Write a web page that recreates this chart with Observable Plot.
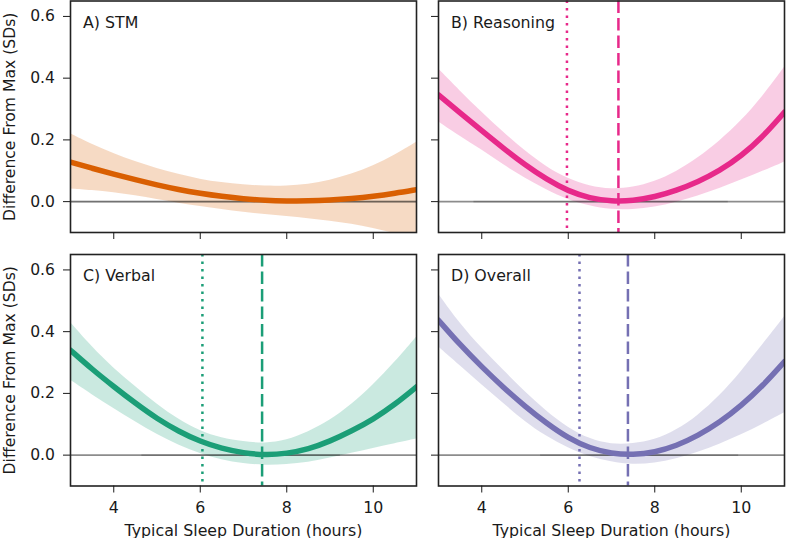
<!DOCTYPE html>
<html><head><meta charset="utf-8">
<script src="https://cdn.jsdelivr.net/npm/d3@7"></script>
<script src="https://cdn.jsdelivr.net/npm/@observablehq/plot@0.6"></script>
<style>
html,body{margin:0;padding:0;background:#fff;}
#chart{position:relative;width:786px;height:538px;font-family:"DejaVu Sans",sans-serif;}
#chart svg{position:absolute;}
</style></head><body><div id="chart"></div>
<script>
// ---- data ----
const hours = [3,3.5,4,4.5,5,5.5,6,6.5,7,7.5,8,8.5,9,9.5,10,10.5,11];

const stmMean  = [0.128,0.108,0.089,0.071,0.054,0.039,0.027,0.017,0.009,0.004,0.002,0.002,0.005,0.010,0.017,0.027,0.039];
const stmUpper = [0.220,0.185,0.155,0.129,0.107,0.088,0.072,0.061,0.054,0.050,0.050,0.055,0.068,0.088,0.115,0.150,0.192];
const stmLower = [0.041,0.036,0.029,0.019,0.007,-0.005,-0.016,-0.026,-0.035,-0.042,-0.048,-0.055,-0.063,-0.073,-0.086,-0.103,-0.125];

const reasoningMean  = [0.346,0.287,0.230,0.173,0.119,0.072,0.034,0.011,0.001,0.003,0.015,0.036,0.064,0.100,0.148,0.210,0.290];
const reasoningUpper = [0.430,0.358,0.290,0.225,0.164,0.112,0.073,0.049,0.039,0.045,0.064,0.096,0.140,0.195,0.260,0.340,0.435];
const reasoningLower = [0.259,0.211,0.168,0.119,0.076,0.038,0.005,-0.015,-0.027,-0.027,-0.019,-0.003,0.018,0.042,0.070,0.098,0.128];

const verbalMean  = [0.340,0.278,0.222,0.168,0.118,0.077,0.044,0.021,0.007,0.000,0.005,0.019,0.045,0.078,0.116,0.164,0.221];
const verbalUpper = [0.430,0.350,0.281,0.222,0.164,0.115,0.077,0.054,0.043,0.037,0.047,0.074,0.111,0.163,0.226,0.300,0.382];
const verbalLower = [0.243,0.195,0.151,0.108,0.066,0.032,0.004,-0.016,-0.028,-0.034,-0.031,-0.024,-0.010,0.006,0.022,0.037,0.052];

const overallMean  = [0.437,0.357,0.286,0.219,0.158,0.103,0.055,0.022,0.005,0.001,0.009,0.030,0.063,0.106,0.160,0.225,0.303];
const overallUpper = [0.522,0.425,0.346,0.276,0.205,0.141,0.088,0.051,0.034,0.036,0.048,0.079,0.127,0.190,0.270,0.358,0.448];
const overallLower = [0.351,0.290,0.227,0.168,0.108,0.060,0.022,-0.006,-0.023,-0.032,-0.027,-0.013,0.008,0.035,0.065,0.100,0.137];

const panelLabels = ["A) STM", "B) Reasoning", "C) Verbal", "D) Overall"];
const dottedLines = [null, 5.97, 6.05, 6.26];
const dashedLines = [null, 7.16, 7.43, 7.38];
const zeroSegStart = [3, 3.82, 4.65, 5.36];
const zeroSegEnd   = [11, 9.70, 9.24, 9.94];
const xTicks = [4, 6, 8, 10];
const yTicks = [0, 0.2, 0.4, 0.6];
const xLabel = "Typical Sleep Duration (hours)";
const yLabel = "Difference From Max (SDs)";

// ---- styles / layout ----
const palette = ["#d95f02", "#e7298a", "#1b9e77", "#7570b3"];
const means = [stmMean, reasoningMean, verbalMean, overallMean];
const uppers = [stmUpper, reasoningUpper, verbalUpper, overallUpper];
const lowers = [stmLower, reasoningLower, verbalLower, overallLower];

const layout = [
  {left: 0,   top: 0,   width: 427, height: 243, mL: 70, mR: 11, mT: 0.5, mB: 11},
  {left: 427, top: 0,   width: 359, height: 243, mL: 11, mR: 2,  mT: 0.5, mB: 11},
  {left: 0,   top: 243, width: 427, height: 295, mL: 70, mR: 11, mT: 11,  mB: 52.5},
  {left: 427, top: 243, width: 359, height: 295, mL: 11, mR: 2,  mT: 11,  mB: 52.5}
];

const chart = document.getElementById("chart");
const textColor = "#1a1a1a";

for (let i = 0; i < 4; i++) {
  const L = layout[i];
  const col = i % 2, row = Math.floor(i / 2);
  const color = palette[i];
  const rows = hours.map((h, j) => ({h, mean: means[i][j], lo: lowers[i][j], hi: uppers[i][j]}));
  const marks = [
    Plot.areaY(rows, {x: "h", y1: "lo", y2: "hi", fill: color, fillOpacity: 0.23, curve: "basis", clip: true}),
    Plot.ruleY([0], {stroke: "#000", strokeOpacity: 0.45, strokeWidth: 1.8}),
    Plot.ruleY([{y: 0, x1: zeroSegStart[i], x2: zeroSegEnd[i]}], {y: "y", x1: "x1", x2: "x2", stroke: "#000", strokeOpacity: 0.18, strokeWidth: 1.8}),
    Plot.line(rows, {x: "h", y: "mean", stroke: color, strokeWidth: 5.5, curve: "basis", clip: true})
  ];
  if (dottedLines[i] != null) marks.push(Plot.ruleX([dottedLines[i]], {stroke: color, strokeWidth: 2.5, strokeDasharray: "2.4,5.1"}));
  if (dashedLines[i] != null) marks.push(Plot.ruleX([dashedLines[i]], {stroke: color, strokeWidth: 2.5, strokeDasharray: "12.5,5"}));
  marks.push(Plot.frame({stroke: "#222", strokeWidth: 1.6}));
  marks.push(Plot.text([panelLabels[i]], {frameAnchor: "top-left", dx: 12.5, dy: 15.5, lineAnchor: "top", textAnchor: "start", fontSize: 15.8, fill: textColor}));
  // axes
  marks.push(Plot.axisX({
    ticks: xTicks, tickSize: 7, tickPadding: 9, fontSize: 15.8, stroke: textColor,
    fill: row === 1 ? textColor : "none",
    label: row === 1 ? xLabel : null, labelAnchor: "center", labelArrow: "none", labelOffset: 49.5
  }));
  marks.push(Plot.axisY({
    ticks: yTicks, tickFormat: d3.format(".1f"), tickSize: 7, tickPadding: 8.5, fontSize: 15.6, stroke: textColor,
    fill: col === 0 ? textColor : "none",
    label: col === 0 ? yLabel : null, labelAnchor: "center", labelArrow: "none", labelOffset: 67
  }));

  const svg = Plot.plot({
    width: L.width, height: L.height,
    marginLeft: L.mL, marginRight: L.mR, marginTop: L.mT, marginBottom: L.mB,
    x: {domain: [3, 11]},
    y: {domain: [-0.1, 0.65]},
    style: {fontFamily: "DejaVu Sans, sans-serif", fontSize: "15.6px", color: textColor, background: "transparent", overflow: "visible"},
    marks
  });
  svg.style.left = L.left + "px";
  svg.style.top = L.top + "px";
  chart.appendChild(svg);
}
</script></body></html>
